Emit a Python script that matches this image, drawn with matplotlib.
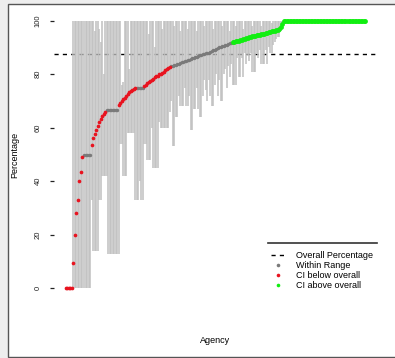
import matplotlib
matplotlib.use('Agg')
import matplotlib.pyplot as plt
import numpy as np
from matplotlib.lines import Line2D
from matplotlib.patches import Rectangle

plt.rcParams['font.family'] = ['Liberation Sans', 'DejaVu Sans']

# ---------------- data ----------------
overall = 87.6

values = [
    0, 0, 0, 0, 0, 9.4, 20, 28, 33, 40,
    43.5, 49, 50, 50, 50, 50, 50, 53.5, 56, 57.5,
    59, 60.5, 62, 63.3, 64.5, 65.2, 66, 66.7, 66.7, 66.7,
    66.7, 66.7, 66.7, 66.7, 66.7, 68.5, 69.3, 70, 70.6, 71.3,
    72, 72.6, 73.2, 73.7, 74.2, 74.5, 74.8, 75, 75, 75,
    75, 75, 75.6, 76.1, 76.6, 77.1, 77.6, 78, 78.4, 78.8,
    79.2, 79.5, 79.9, 80.2, 80.5, 80.9, 81.4, 82, 82.3, 82.7,
    83.0, 83.2, 83.4, 83.6, 83.8, 84.0, 84.2, 84.4, 84.6, 84.8,
    85.0, 85.3, 85.5, 85.7, 85.9, 86.1, 86.4, 86.6, 86.8, 87.1,
    87.3, 87.5, 87.6, 87.8, 87.9, 88.1, 88.3, 88.6, 88.9, 89.2,
    89.5, 89.8, 90.0, 90.2, 90.4, 90.6, 90.9, 91.1, 91.3, 91.5,
    91.8, 92.0, 92.2, 92.3, 92.5, 92.6, 92.8, 92.9, 93.1, 93.2,
    93.4, 93.6, 93.8, 94.0, 94.1, 94.3, 94.4, 94.5, 94.7, 94.8,
    94.9, 95.1, 95.2, 95.4, 95.5, 95.7, 95.8, 96.0, 96.1, 96.3,
    96.5, 96.6, 96.9, 97.6, 98.6] + [100] * 55

lower = [
    0, 0, 0, 0, 0, 0, 0, 0, 0, 0,
    0, 0, 0, 0, 0, 0, 0, 33, 14, 14,
    14, 14, 33, 33, 42, 42, 42, 42, 13, 13,
    13, 13, 13, 13, 13, 13, 54, 54, 42, 42,
    42, 58, 58, 58, 58, 58, 33, 33, 33, 40,
    33, 33, 54, 54, 48, 48, 48, 60, 45, 45,
    45, 45, 62, 60, 60, 60, 60, 60, 60, 66,
    70, 53, 53, 64, 64, 72, 68, 68, 68, 75,
    68, 68, 72, 59, 59, 67, 67, 75, 67, 64,
    64, 72, 78, 74, 70, 78, 72, 68, 68, 76,
    80, 72, 78, 70, 70, 80, 82, 75, 83, 79,
    84, 76, 76, 76, 86, 79, 79, 86, 79, 88,
    84, 87, 85, 88, 81, 81, 81, 88, 86, 89,
    84, 84, 84, 89, 84, 90, 88, 88, 91, 92,
    93, 94, 94, 96, 98] + [100] * 55

upper = [
    0, 0, 0, 0, 0, 100, 100, 100, 100, 100,
    100, 100, 100, 100, 100, 100, 100, 100, 100, 96,
    100, 100, 97, 92, 100, 80, 100, 100, 100, 100,
    100, 100, 100, 100, 100, 100, 100, 76, 77, 100,
    100, 100, 82, 100, 100, 100, 100, 100, 100, 100,
    100, 100, 100, 100, 100, 95, 100, 100, 100, 90,
    100, 100, 100, 100, 97, 100, 100, 100, 100, 100,
    100, 100, 98, 100, 100, 100, 96, 100, 100, 100,
    100, 97, 100, 100, 100, 100, 100, 96, 100, 100,
    100, 100, 98, 100, 100, 100, 100, 100, 97, 100,
    100, 100, 100, 100, 98, 100, 100, 100, 100, 96,
    100, 100, 100, 98, 100, 100, 100, 100, 97, 100,
    100, 100, 100, 100, 98, 100, 100, 100, 100, 100,
    98, 100, 100, 100, 100, 100, 100, 99, 100, 100,
    100, 100, 100, 100, 100] + [100] * 55

# run-length status of agencies (in sorted order)
status_runs = [("below", 12), ("within", 5), ("below", 10), ("within", 8),
               ("below", 12), ("within", 5), ("below", 18), ("within", 41),
               ("above", 89)]

legend_labels = ["Overall Percentage", "Within Range", "CI below overall", "CI above overall"]
y_ticks = [0, 20, 40, 60, 80, 100]

# ---------------- plot ----------------
status = []
for s, n in status_runs:
    status += [s] * n
v = np.array(values, dtype=float)
lo = np.array(lower, dtype=float)
hi = np.array(upper, dtype=float)
st = np.array(status)
N = len(v)
x = np.arange(1, N + 1)

W, H = 395, 358
fig = plt.figure(figsize=(W / 100, H / 100), dpi=100, facecolor='#eeeeee')
fig.add_artist(Rectangle((7.5 / W, 1.5 / H), 1.0, (354 - 1.5) / H,
                         transform=fig.transFigure, facecolor='white',
                         edgecolor='#555555', lw=1.0, zorder=-5))

ax = fig.add_axes([54 / W, 59 / H, 323 / W, 289 / H])
ax.set_facecolor('none')

ax.axhline(overall, color='black', ls=(0, (3, 3)), lw=1.0, zorder=1)
ax.vlines(x, lo, hi, color='#c0c0c0', lw=1.1, zorder=2)

colors = {"within": '#7a7a7a', "below": '#e8131f', "above": '#11ee11'}
sizes = {"within": 6, "below": 7, "above": 12}
for key in ["within", "below", "above"]:
    m = st == key
    ax.scatter(x[m], v[m], s=sizes[key], color=colors[key], linewidths=0, zorder=3)

ax.set_xlim(1 - 0.04 * (N - 1), N + 0.04 * (N - 1))
ax.set_ylim(-4, 104)
for sp in ax.spines.values():
    sp.set_visible(False)
ax.set_xticks([])
ax.set_yticks(y_ticks)
ax.set_yticklabels([str(t) for t in y_ticks], rotation=90, va='center', fontsize=5.5, color='#222222')
ax.tick_params(axis='y', length=3, width=0.9, pad=6, colors='#222222')

ax.set_ylabel("Percentage", fontsize=6.5)
ax.yaxis.set_label_coords((19 - 54) / 323, 0.5)
ax.set_xlabel("Agency", fontsize=6.5)
ax.xaxis.set_label_coords(0.5, (299 - 336) / 289)

handles = [Line2D([], [], color='black', ls=(0, (3, 3)), lw=1.0),
           Line2D([], [], marker='o', ls='', color=colors["within"], ms=2.6, mew=0),
           Line2D([], [], marker='o', ls='', color=colors["below"], ms=2.6, mew=0),
           Line2D([], [], marker='o', ls='', color=colors["above"], ms=2.6, mew=0)]
ax.legend(handles, legend_labels, loc='upper left',
          bbox_to_anchor=(271 / W, 1 - 251 / H), bbox_transform=fig.transFigure,
          frameon=False, fontsize=6.5, handlelength=1.45, handletextpad=1.3,
          labelspacing=0.1, borderpad=0, borderaxespad=0)
fig.add_artist(Line2D([268 / W, 377 / W], [1 - 243 / H] * 2, transform=fig.transFigure,
                      color='#333333', lw=1.2))

fig.savefig("out.png", dpi=100, facecolor=fig.get_facecolor())
